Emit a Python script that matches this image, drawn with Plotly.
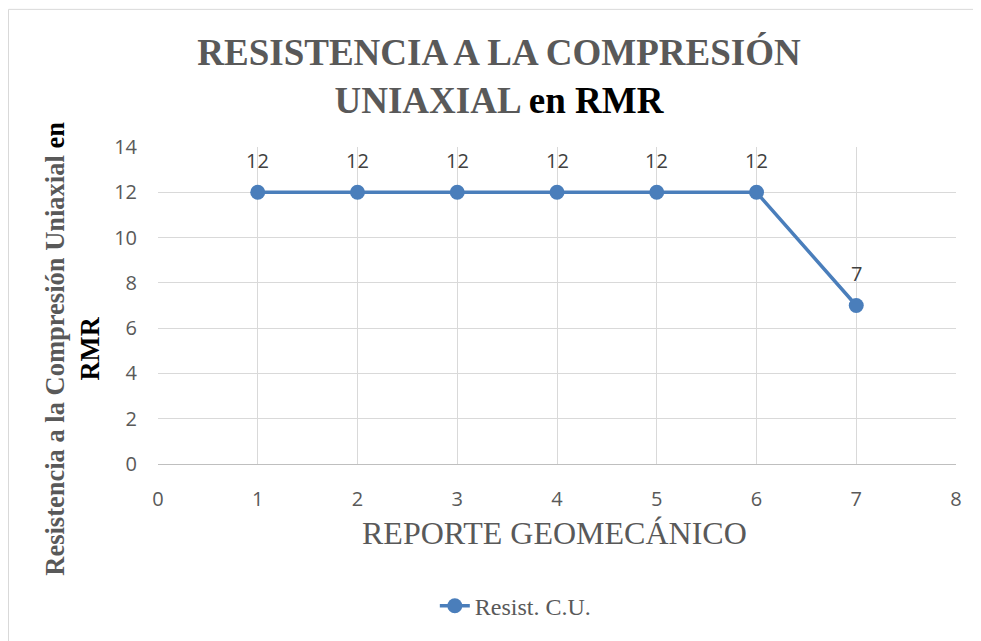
import plotly.graph_objects as go

reportes = [1, 2, 3, 4, 5, 6, 7]
valores = [12, 12, 12, 12, 12, 12, 7]
serie_nombre = "Resist. C.U."
x_ticks = [0, 1, 2, 3, 4, 5, 6, 7, 8]
y_ticks = [0, 2, 4, 6, 8, 10, 12, 14]

LINE_COLOR = "#4a7ebb"
GRAY = "#595959"
GRID = "#d9d9d9"
SERIF = "Liberation Serif, Times New Roman, serif"
SANS = "Open Sans, sans-serif"

W, H = 973, 633
L, T, PW, PH = 150, 139, 798, 319

fig = go.Figure()
fig.add_trace(go.Scatter(
    x=reportes, y=valores, name=serie_nombre,
    mode="lines+markers",
    line=dict(color=LINE_COLOR, width=3.5),
    marker=dict(color=LINE_COLOR, size=15),
))

annotations = []
for xv, yv in zip(reportes, valores):
    annotations.append(dict(
        x=xv, y=yv, text=str(yv), showarrow=False, yshift=32,
        font=dict(family=SANS, size=20, color="#404040"),
    ))

# Y axis title (rotated, two lines)
annotations.append(dict(
    xref="paper", yref="paper", x=(64 - L) / PW, y=(T + PH - 342) / PH,
    xanchor="center", yanchor="middle", textangle=-90, showarrow=False,
    text=("<b>Resistencia a la Compresión Uniaxial <span style='color:#000000'>en</span><br>"
          "<span style='color:#000000'>RMR</span></b>"),
    font=dict(family=SERIF, size=26.5, color=GRAY),
))
# X axis title
annotations.append(dict(
    xref="paper", yref="paper", x=0.4965, y=(T + PH - 527) / PH,
    xanchor="center", yanchor="middle", showarrow=False,
    text="REPORTE GEOMECÁNICO",
    font=dict(family=SERIF, size=32, color=GRAY),
))

fig.update_layout(
    width=W, height=H,
    margin=dict(l=L, r=W - L - PW, t=T, b=H - T - PH),
    paper_bgcolor="white", plot_bgcolor="white",
    title=dict(
        text="<b>RESISTENCIA A LA COMPRESIÓN<br>UNIAXIAL <span style='color:#000000'>en RMR</span></b>",
        x=491 / W, xanchor="center", y=1 - 56.5 / H, yanchor="middle",
        font=dict(family=SERIF, size=37, color=GRAY),
    ),
    showlegend=True,
    legend=dict(
        orientation="h", x=0.4484, xanchor="center", y=(T + PH - 601) / PH, yanchor="middle",
        font=dict(family=SERIF, size=24, color=GRAY),
        bgcolor="rgba(0,0,0,0)",
    ),
    annotations=annotations,
    shapes=[dict(
        type="rect", xref="paper", yref="paper",
        x0=(0.5 - L) / PW, x1=1.2, y0=-0.8, y1=(T + PH - 0.5) / PH,
        line=dict(color=GRID, width=1), fillcolor="rgba(0,0,0,0)", layer="below",
    )],
)

fig.update_xaxes(
    range=[0, 8], tickvals=x_ticks, showgrid=True, gridcolor=GRID, gridwidth=1,
    zeroline=False, showline=True, linecolor="#bfbfbf", linewidth=1, mirror=False,
    tickfont=dict(family=SANS, size=20, color=GRAY), ticklabelstandoff=17,
)
fig.update_yaxes(
    range=[0, 14], tickvals=y_ticks, showgrid=True, gridcolor=GRID, gridwidth=1,
    zeroline=False, showline=False,
    tickfont=dict(family=SANS, size=20, color=GRAY), ticklabelstandoff=20,
)

fig.write_html("out.html")
